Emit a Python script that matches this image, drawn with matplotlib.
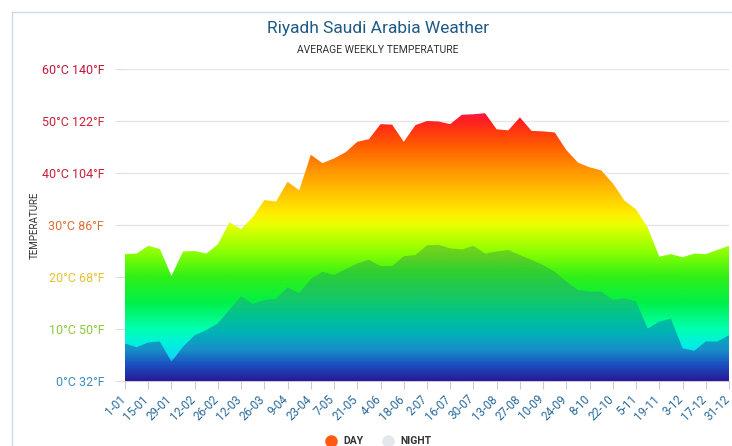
import matplotlib.pyplot as plt
from matplotlib.colors import LinearSegmentedColormap
from matplotlib.lines import Line2D
from matplotlib.transforms import ScaledTranslation
import numpy as np

plt.rcParams['font.family'] = ['Roboto', 'DejaVu Sans']

# weekly averages, 1-01 .. 31-12 (53 weeks)
day_temp = [24.4, 24.5, 26.0, 25.4, 20.2, 24.9, 25.0, 24.5, 26.3, 30.5,
            29.2, 31.5, 34.8, 34.5, 38.3, 36.7, 43.5, 41.9, 42.8, 44.0,
            46.0, 46.5, 49.4, 49.3, 46.0, 49.2, 50.0, 49.9, 49.4, 51.2,
            51.3, 51.5, 48.4, 48.2, 50.7, 48.1, 48.0, 47.8, 44.4, 42.0,
            41.1, 40.5, 38.0, 34.7, 33.0, 29.5, 23.9, 24.4, 23.8, 24.5,
            24.4, 25.2, 26.0]
night_temp = [7.2, 6.5, 7.4, 7.6, 3.7, 6.6, 8.8, 9.8, 11.1, 13.7,
              16.3, 14.8, 15.6, 15.8, 18.0, 16.9, 19.6, 21.0, 20.4, 21.5,
              22.6, 23.3, 22.1, 22.1, 24.0, 24.2, 26.1, 26.2, 25.5, 25.3,
              26.0, 24.5, 24.9, 25.2, 24.2, 23.3, 22.3, 21.0, 19.1, 17.5,
              17.2, 17.2, 15.6, 15.9, 15.3, 10.1, 11.4, 12.0, 6.3, 5.8,
              7.6, 7.6, 8.8]
week_labels = ['1-01', '15-01', '29-01', '12-02', '26-02', '12-03', '26-03',
               '9-04', '23-04', '7-05', '21-05', '4-06', '18-06', '2-07',
               '16-07', '30-07', '13-08', '27-08', '10-09', '24-09', '8-10',
               '22-10', '5-11', '19-11', '3-12', '17-12', '31-12']
y_levels = [0, 10, 20, 30, 40, 50, 60]
y_labels = ['0°C 32°F', '10°C 50°F', '20°C 68°F', '30°C 86°F',
            '40°C 104°F', '50°C 122°F', '60°C 140°F']
y_label_colors = ['#3a8ec0', '#88cc3a', '#e8c030', '#dc6e3a',
                  '#c8203a', '#c8203a', '#c0183a']

weeks = np.arange(len(day_temp))

# colour ramps (temperature on 0..60 scale)
day_cmap = LinearSegmentedColormap.from_list('day', [
    (0 / 60, '#2a1a9a'), (2 / 60, '#2050c0'), (4.5 / 60, '#10d8f0'),
    (7 / 60, '#00f0e0'), (10 / 60, '#00ffb0'), (15 / 60, '#00f048'),
    (20 / 60, '#30f018'), (25 / 60, '#90ff00'), (30 / 60, '#e8ff00'),
    (32 / 60, '#fff000'), (35 / 60, '#ffd000'), (41 / 60, '#ff9000'),
    (45 / 60, '#ff6000'), (48 / 60, '#ff3a10'), (50 / 60, '#ff2020'),
    (52 / 60, '#f01848'), (1, '#e01060')])
night_cmap = LinearSegmentedColormap.from_list('night', [
    (0 / 60, '#2a1a9a'), (3 / 60, '#1a50c0'), (6 / 60, '#1890c8'),
    (9 / 60, '#00b0b8'), (12 / 60, '#00c098'), (15 / 60, '#10c870'),
    (18 / 60, '#20c850'), (21 / 60, '#30d030'), (24 / 60, '#60d020'),
    (27 / 60, '#80d818'), (1, '#a0e010')])

fig = plt.figure(figsize=(7.32, 4.46), dpi=100)
ax = fig.add_axes([125 / 732, 1 - 381 / 446, 604 / 732, 312 / 446])

grad = np.linspace(0, 60, 600).reshape(-1, 1)

day_poly = ax.fill_between(weeks, 0, day_temp, color='none', lw=0)
im = ax.imshow(grad, extent=[0, 52, 0, 60], origin='lower', aspect='auto',
               cmap=day_cmap, vmin=0, vmax=60, zorder=2)
im.set_clip_path(day_poly.get_paths()[0], transform=ax.transData)

night_poly = ax.fill_between(weeks, 0, night_temp, color='none', lw=0)
im2 = ax.imshow(grad, extent=[0, 52, 0, 60], origin='lower', aspect='auto',
                cmap=night_cmap, vmin=0, vmax=60, zorder=3)
im2.set_clip_path(night_poly.get_paths()[0], transform=ax.transData)

ax.set_xlim(0, 52)
ax.set_ylim(0, 60)

ax.set_yticks(y_levels)
ax.set_yticklabels(y_labels, fontsize=9)
for lbl, c in zip(ax.get_yticklabels(), y_label_colors):
    lbl.set_color(c)
ax.tick_params(axis='y', length=7, color='#dddddd', pad=8)
ax.yaxis.grid(True, color='#e6e6e6', lw=1)
ax.set_axisbelow(True)

ax.set_xticks(np.arange(0, 53, 2))
ax.set_xticklabels(week_labels, rotation=45, ha='right', rotation_mode='anchor',
                   fontsize=8.5, color='#2a6a9a')
ax.tick_params(axis='x', length=6, color='#cccccc', pad=3)
# nudge the slanted labels so their right end sits under the tick
shift = ScaledTranslation(-0.06, 0.01, fig.dpi_scale_trans)
for lbl in ax.get_xticklabels():
    lbl.set_transform(lbl.get_transform() + shift)

for s in ['top', 'right', 'left']:
    ax.spines[s].set_visible(False)
ax.spines['bottom'].set_color('#cccccc')

ax.set_ylabel('TEMPERATURE', fontsize=7, color='#333333')
ax.yaxis.set_label_coords(-0.142, 0.5)

fig.text(378 / 732, 1 - 28 / 446, 'Riyadh Saudi Arabia Weather', ha='center',
         va='center', fontsize=12.5, color='#1f5a85')
fig.text(378 / 732, 1 - 50 / 446, 'AVERAGE WEEKLY TEMPERATURE', ha='center',
         va='center', fontsize=7.5, color='#333333')

# card border
fig.add_artist(Line2D([12 / 732, 1], [1 - 12 / 446] * 2, color='#c8d8f0', lw=1))
fig.add_artist(Line2D([12 / 732] * 2, [0, 1 - 12 / 446], color='#c8d8f0', lw=1))

# legend
fig.add_artist(Line2D([331 / 732], [1 - 441 / 446], marker='o', ms=8,
                      color='#ff5a10', lw=0))
fig.text(343 / 732, 1 - 441 / 446, 'DAY', fontsize=7.5, fontweight='bold',
         color='#333333', va='center')
fig.add_artist(Line2D([388 / 732], [1 - 441 / 446], marker='o', ms=8,
                      color='#e4e8ec', lw=0))
fig.text(400 / 732, 1 - 441 / 446, 'NIGHT', fontsize=7.5, fontweight='bold',
         color='#333333', va='center')

fig.savefig('out.png', dpi=100)
